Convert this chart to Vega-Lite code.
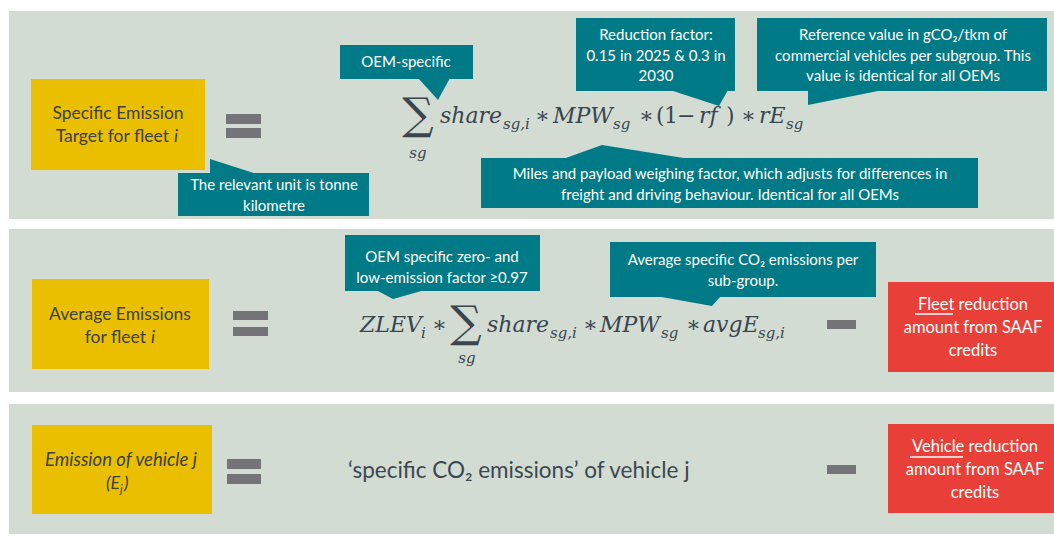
{
  "$schema": "https://vega.github.io/schema/vega-lite/v6.json",
  "width": 1054,
  "height": 536,
  "padding": 0,
  "autosize": {"type": "fit", "contains": "padding"},
  "background": "#ffffff",
  "config": {"view": {"stroke": null}},
  "datasets": {
    "rects": [
      {"kind": "panel", "x": 9, "x2": 1054, "y": 11, "y2": 219},
      {"kind": "panel", "x": 9, "x2": 1054, "y": 229, "y2": 392},
      {"kind": "panel", "x": 9, "x2": 1054, "y": 404, "y2": 534},
      {"kind": "yellow", "x": 31, "x2": 205, "y": 79, "y2": 170},
      {"kind": "yellow", "x": 32, "x2": 209, "y": 279, "y2": 369},
      {"kind": "yellow", "x": 32, "x2": 212, "y": 425, "y2": 514},
      {"kind": "red", "x": 888, "x2": 1054, "y": 282, "y2": 372},
      {"kind": "red", "x": 888, "x2": 1054, "y": 424, "y2": 513},
      {"kind": "teal", "x": 340, "x2": 473, "y": 45, "y2": 79},
      {"kind": "teal", "x": 576, "x2": 735, "y": 18, "y2": 91},
      {"kind": "teal", "x": 757, "x2": 1047, "y": 18, "y2": 91},
      {"kind": "teal", "x": 178, "x2": 369, "y": 173, "y2": 216},
      {"kind": "teal", "x": 481, "x2": 978, "y": 158, "y2": 208},
      {"kind": "teal", "x": 345, "x2": 540, "y": 235, "y2": 291},
      {"kind": "teal", "x": 610, "x2": 876, "y": 242, "y2": 297},
      {"kind": "bar", "x": 226, "x2": 261, "y": 114, "y2": 124},
      {"kind": "bar", "x": 226, "x2": 261, "y": 128, "y2": 138},
      {"kind": "bar", "x": 233, "x2": 268, "y": 311, "y2": 320},
      {"kind": "bar", "x": 233, "x2": 268, "y": 327, "y2": 336},
      {"kind": "bar", "x": 227, "x2": 261, "y": 459, "y2": 469},
      {"kind": "bar", "x": 227, "x2": 261, "y": 474, "y2": 484},
      {"kind": "bar", "x": 827, "x2": 856, "y": 320, "y2": 329},
      {"kind": "bar", "x": 827, "x2": 856, "y": 465, "y2": 474}
    ],
    "pointers": [
      {"id": "unit", "x": 210, "y": 159, "y2": 174},
      {"id": "unit", "x": 257, "y": 174, "y2": 174},
      {"id": "oem", "x": 418, "y": 78, "y2": 78},
      {"id": "oem", "x": 438, "y": 78, "y2": 100},
      {"id": "oem", "x": 450, "y": 78, "y2": 78},
      {"id": "rf", "x": 670, "y": 90, "y2": 90},
      {"id": "rf", "x": 719, "y": 90, "y2": 106},
      {"id": "rf", "x": 728, "y": 90, "y2": 90},
      {"id": "ref", "x": 808, "y": 90, "y2": 105},
      {"id": "ref", "x": 883, "y": 90, "y2": 90},
      {"id": "mpw", "x": 563, "y": 159, "y2": 159},
      {"id": "mpw", "x": 602, "y": 145, "y2": 159},
      {"id": "mpw", "x": 690, "y": 159, "y2": 159},
      {"id": "zlev", "x": 376, "y": 290, "y2": 290},
      {"id": "zlev", "x": 393, "y": 290, "y2": 299},
      {"id": "zlev", "x": 425, "y": 290, "y2": 290},
      {"id": "avg", "x": 656, "y": 296, "y2": 296},
      {"id": "avg", "x": 712, "y": 296, "y2": 306},
      {"id": "avg", "x": 721, "y": 296, "y2": 296}
    ],
    "underlines": [
      {"x": 915, "x2": 953, "y": 314},
      {"x": 910, "x2": 963, "y": 457}
    ],
    "labels": [
      {"kind": "callout", "x": 406, "y": 62, "text": "OEM-specific"},
      {"kind": "callout", "x": 656, "y": 35, "text": "Reduction factor:\n0.15 in 2025 & 0.3 in\n2030"},
      {"kind": "callout", "x": 903, "y": 35, "text": "Reference value in gCO₂/tkm of\ncommercial vehicles per subgroup. This\nvalue is identical for all OEMs"},
      {"kind": "callout", "x": 274, "y": 185, "text": "The relevant unit is tonne\nkilometre"},
      {"kind": "callout", "x": 730, "y": 174, "text": "Miles and payload weighing factor, which adjusts for differences in\nfreight and driving behaviour. Identical for all OEMs"},
      {"kind": "callout", "x": 442, "y": 257, "text": "OEM specific zero- and\nlow-emission factor ≥0.97"},
      {"kind": "callout", "x": 743, "y": 260, "text": "Average specific CO₂ emissions per\nsub-group."},
      {"kind": "red", "x": 973, "y": 305, "text": "Fleet reduction\namount from SAAF\ncredits"},
      {"kind": "red", "x": 975, "y": 447, "text": "Vehicle reduction\namount from SAAF\ncredits"},
      {"kind": "boxc", "x": 118, "y": 114, "text": "Specific Emission"},
      {"kind": "boxr", "x": 169, "y": 137, "text": "Target for fleet"},
      {"kind": "boxil", "x": 174, "y": 137, "text": "i"},
      {"kind": "boxc", "x": 120, "y": 315, "text": "Average Emissions"},
      {"kind": "boxr", "x": 146, "y": 338, "text": "for fleet"},
      {"kind": "boxil", "x": 151, "y": 338, "text": "i"},
      {"kind": "boxic", "x": 121, "y": 460, "text": "Emission of vehicle j"},
      {"kind": "boxir", "x": 120, "y": 484, "text": "(E"},
      {"kind": "boxisub", "x": 120, "y": 489, "text": "j"},
      {"kind": "boxil", "x": 124, "y": 484, "text": ")"},
      {"kind": "plain", "x": 348, "y": 471, "text": "‘specific CO₂ emissions’ of vehicle j"},
      {"kind": "sum", "x": 418, "y": 116, "text": "∑"},
      {"kind": "sumsub", "x": 418, "y": 153, "text": "sg"},
      {"kind": "math", "x": 440, "y": 123, "text": "share"},
      {"kind": "sub", "x": 503, "y": 129, "text": "sg,i"},
      {"kind": "op", "x": 535, "y": 123, "text": "∗"},
      {"kind": "math", "x": 553, "y": 123, "text": "MPW"},
      {"kind": "sub", "x": 613, "y": 129, "text": "sg"},
      {"kind": "op", "x": 639, "y": 123, "text": "∗"},
      {"kind": "op", "x": 656, "y": 123, "text": "("},
      {"kind": "op", "x": 664, "y": 123, "text": "1"},
      {"kind": "op", "x": 677, "y": 123, "text": "−"},
      {"kind": "math", "x": 699, "y": 123, "text": "rf"},
      {"kind": "op", "x": 726, "y": 123, "text": ")"},
      {"kind": "op", "x": 741, "y": 123, "text": "∗"},
      {"kind": "math", "x": 759, "y": 123, "text": "rE"},
      {"kind": "sub", "x": 786, "y": 129, "text": "sg"},
      {"kind": "math", "x": 360, "y": 332, "text": "ZLEV"},
      {"kind": "sub", "x": 421, "y": 338, "text": "i"},
      {"kind": "op", "x": 432, "y": 332, "text": "∗"},
      {"kind": "sum", "x": 466, "y": 324, "text": "∑"},
      {"kind": "sumsub", "x": 467, "y": 358, "text": "sg"},
      {"kind": "math", "x": 487, "y": 332, "text": "share"},
      {"kind": "sub", "x": 550, "y": 338, "text": "sg,i"},
      {"kind": "op", "x": 583, "y": 332, "text": "∗"},
      {"kind": "math", "x": 600, "y": 332, "text": "MPW"},
      {"kind": "sub", "x": 661, "y": 338, "text": "sg"},
      {"kind": "op", "x": 686, "y": 332, "text": "∗"},
      {"kind": "math", "x": 703, "y": 332, "text": "avgE"},
      {"kind": "sub", "x": 758, "y": 338, "text": "sg,i"}
    ]
  },
  "encoding": {
    "x": {"field": "x", "type": "quantitative", "scale": {"domain": [0, 1054], "nice": false, "zero": false}, "axis": null},
    "y": {"field": "y", "type": "quantitative", "scale": {"domain": [0, 536], "nice": false, "zero": false, "reverse": true}, "axis": null}
  },
  "layer": [
    {
      "data": {"name": "rects"},
      "mark": {"type": "rect"},
      "encoding": {
        "x2": {"field": "x2"},
        "y2": {"field": "y2"},
        "color": {"field": "kind", "type": "nominal", "legend": null,
          "scale": {"domain": ["panel", "yellow", "red", "teal", "bar"], "range": ["#d2dcd3", "#e9bf00", "#e84038", "#007a86", "#747478"]}}
      }
    },
    {
      "data": {"name": "pointers"},
      "mark": {"type": "area", "color": "#007a86", "interpolate": "linear"},
      "encoding": {
        "y": {"field": "y", "type": "quantitative", "stack": null},
        "y2": {"field": "y2"},
        "detail": {"field": "id", "type": "nominal"}
      }
    },
    {
      "data": {"name": "underlines"},
      "mark": {"type": "rule", "color": "#ffffff", "strokeWidth": 1.5},
      "encoding": {"x2": {"field": "x2"}}
    },
    {
      "data": {"name": "labels"},
      "transform": [{"filter": "datum.kind === 'callout'"}],
      "mark": {"type": "text", "font": "Lato", "fontSize": 15, "color": "#ffffff", "align": "center", "baseline": "middle", "lineBreak": "\n", "lineHeight": 20.5},
      "encoding": {"text": {"field": "text"}}
    },
    {
      "data": {"name": "labels"},
      "transform": [{"filter": "datum.kind === 'red'"}],
      "mark": {"type": "text", "font": "Lato", "fontSize": 16.5, "color": "#ffffff", "align": "center", "baseline": "middle", "lineBreak": "\n", "lineHeight": 23},
      "encoding": {"text": {"field": "text"}}
    },
    {
      "data": {"name": "labels"},
      "transform": [{"filter": "datum.kind === 'boxc'"}],
      "mark": {"type": "text", "font": "Lato", "fontSize": 17.5, "color": "#404040", "align": "center", "baseline": "middle"},
      "encoding": {"text": {"field": "text"}}
    },
    {
      "data": {"name": "labels"},
      "transform": [{"filter": "datum.kind === 'boxr'"}],
      "mark": {"type": "text", "font": "Lato", "fontSize": 17.5, "color": "#404040", "align": "right", "baseline": "middle"},
      "encoding": {"text": {"field": "text"}}
    },
    {
      "data": {"name": "labels"},
      "transform": [{"filter": "datum.kind === 'boxil'"}],
      "mark": {"type": "text", "font": "Lato", "fontSize": 17.5, "fontStyle": "italic", "color": "#404040", "align": "left", "baseline": "middle"},
      "encoding": {"text": {"field": "text"}}
    },
    {
      "data": {"name": "labels"},
      "transform": [{"filter": "datum.kind === 'boxir'"}],
      "mark": {"type": "text", "font": "Lato", "fontSize": 17.5, "fontStyle": "italic", "color": "#404040", "align": "right", "baseline": "middle"},
      "encoding": {"text": {"field": "text"}}
    },
    {
      "data": {"name": "labels"},
      "transform": [{"filter": "datum.kind === 'boxic'"}],
      "mark": {"type": "text", "font": "Lato", "fontSize": 18.5, "fontStyle": "italic", "color": "#404040", "align": "center", "baseline": "middle"},
      "encoding": {"text": {"field": "text"}}
    },
    {
      "data": {"name": "labels"},
      "transform": [{"filter": "datum.kind === 'boxisub'"}],
      "mark": {"type": "text", "font": "Lato", "fontSize": 12, "fontStyle": "italic", "color": "#404040", "align": "left", "baseline": "middle"},
      "encoding": {"text": {"field": "text"}}
    },
    {
      "data": {"name": "labels"},
      "transform": [{"filter": "datum.kind === 'plain'"}],
      "mark": {"type": "text", "font": "Lato", "fontSize": 22.5, "color": "#3d4750", "align": "left", "baseline": "middle"},
      "encoding": {"text": {"field": "text"}}
    },
    {
      "data": {"name": "labels"},
      "transform": [{"filter": "datum.kind === 'sum'"}],
      "mark": {"type": "text", "font": "DejaVu Serif", "fontSize": 44, "color": "#3a4550", "align": "center", "baseline": "middle"},
      "encoding": {"text": {"field": "text"}}
    },
    {
      "data": {"name": "labels"},
      "transform": [{"filter": "datum.kind === 'sumsub'"}],
      "mark": {"type": "text", "font": "DejaVu Serif", "fontSize": 15, "fontStyle": "italic", "color": "#3a4550", "align": "center", "baseline": "middle"},
      "encoding": {"text": {"field": "text"}}
    },
    {
      "data": {"name": "labels"},
      "transform": [{"filter": "datum.kind === 'math'"}],
      "mark": {"type": "text", "font": "DejaVu Serif", "fontSize": 22, "fontStyle": "italic", "color": "#3a4550", "align": "left", "baseline": "alphabetic"},
      "encoding": {"text": {"field": "text"}}
    },
    {
      "data": {"name": "labels"},
      "transform": [{"filter": "datum.kind === 'sub'"}],
      "mark": {"type": "text", "font": "DejaVu Serif", "fontSize": 15, "fontStyle": "italic", "color": "#3a4550", "align": "left", "baseline": "alphabetic"},
      "encoding": {"text": {"field": "text"}}
    },
    {
      "data": {"name": "labels"},
      "transform": [{"filter": "datum.kind === 'op'"}],
      "mark": {"type": "text", "font": "DejaVu Serif", "fontSize": 22, "color": "#3a4550", "align": "left", "baseline": "alphabetic"},
      "encoding": {"text": {"field": "text"}}
    }
  ]
}
